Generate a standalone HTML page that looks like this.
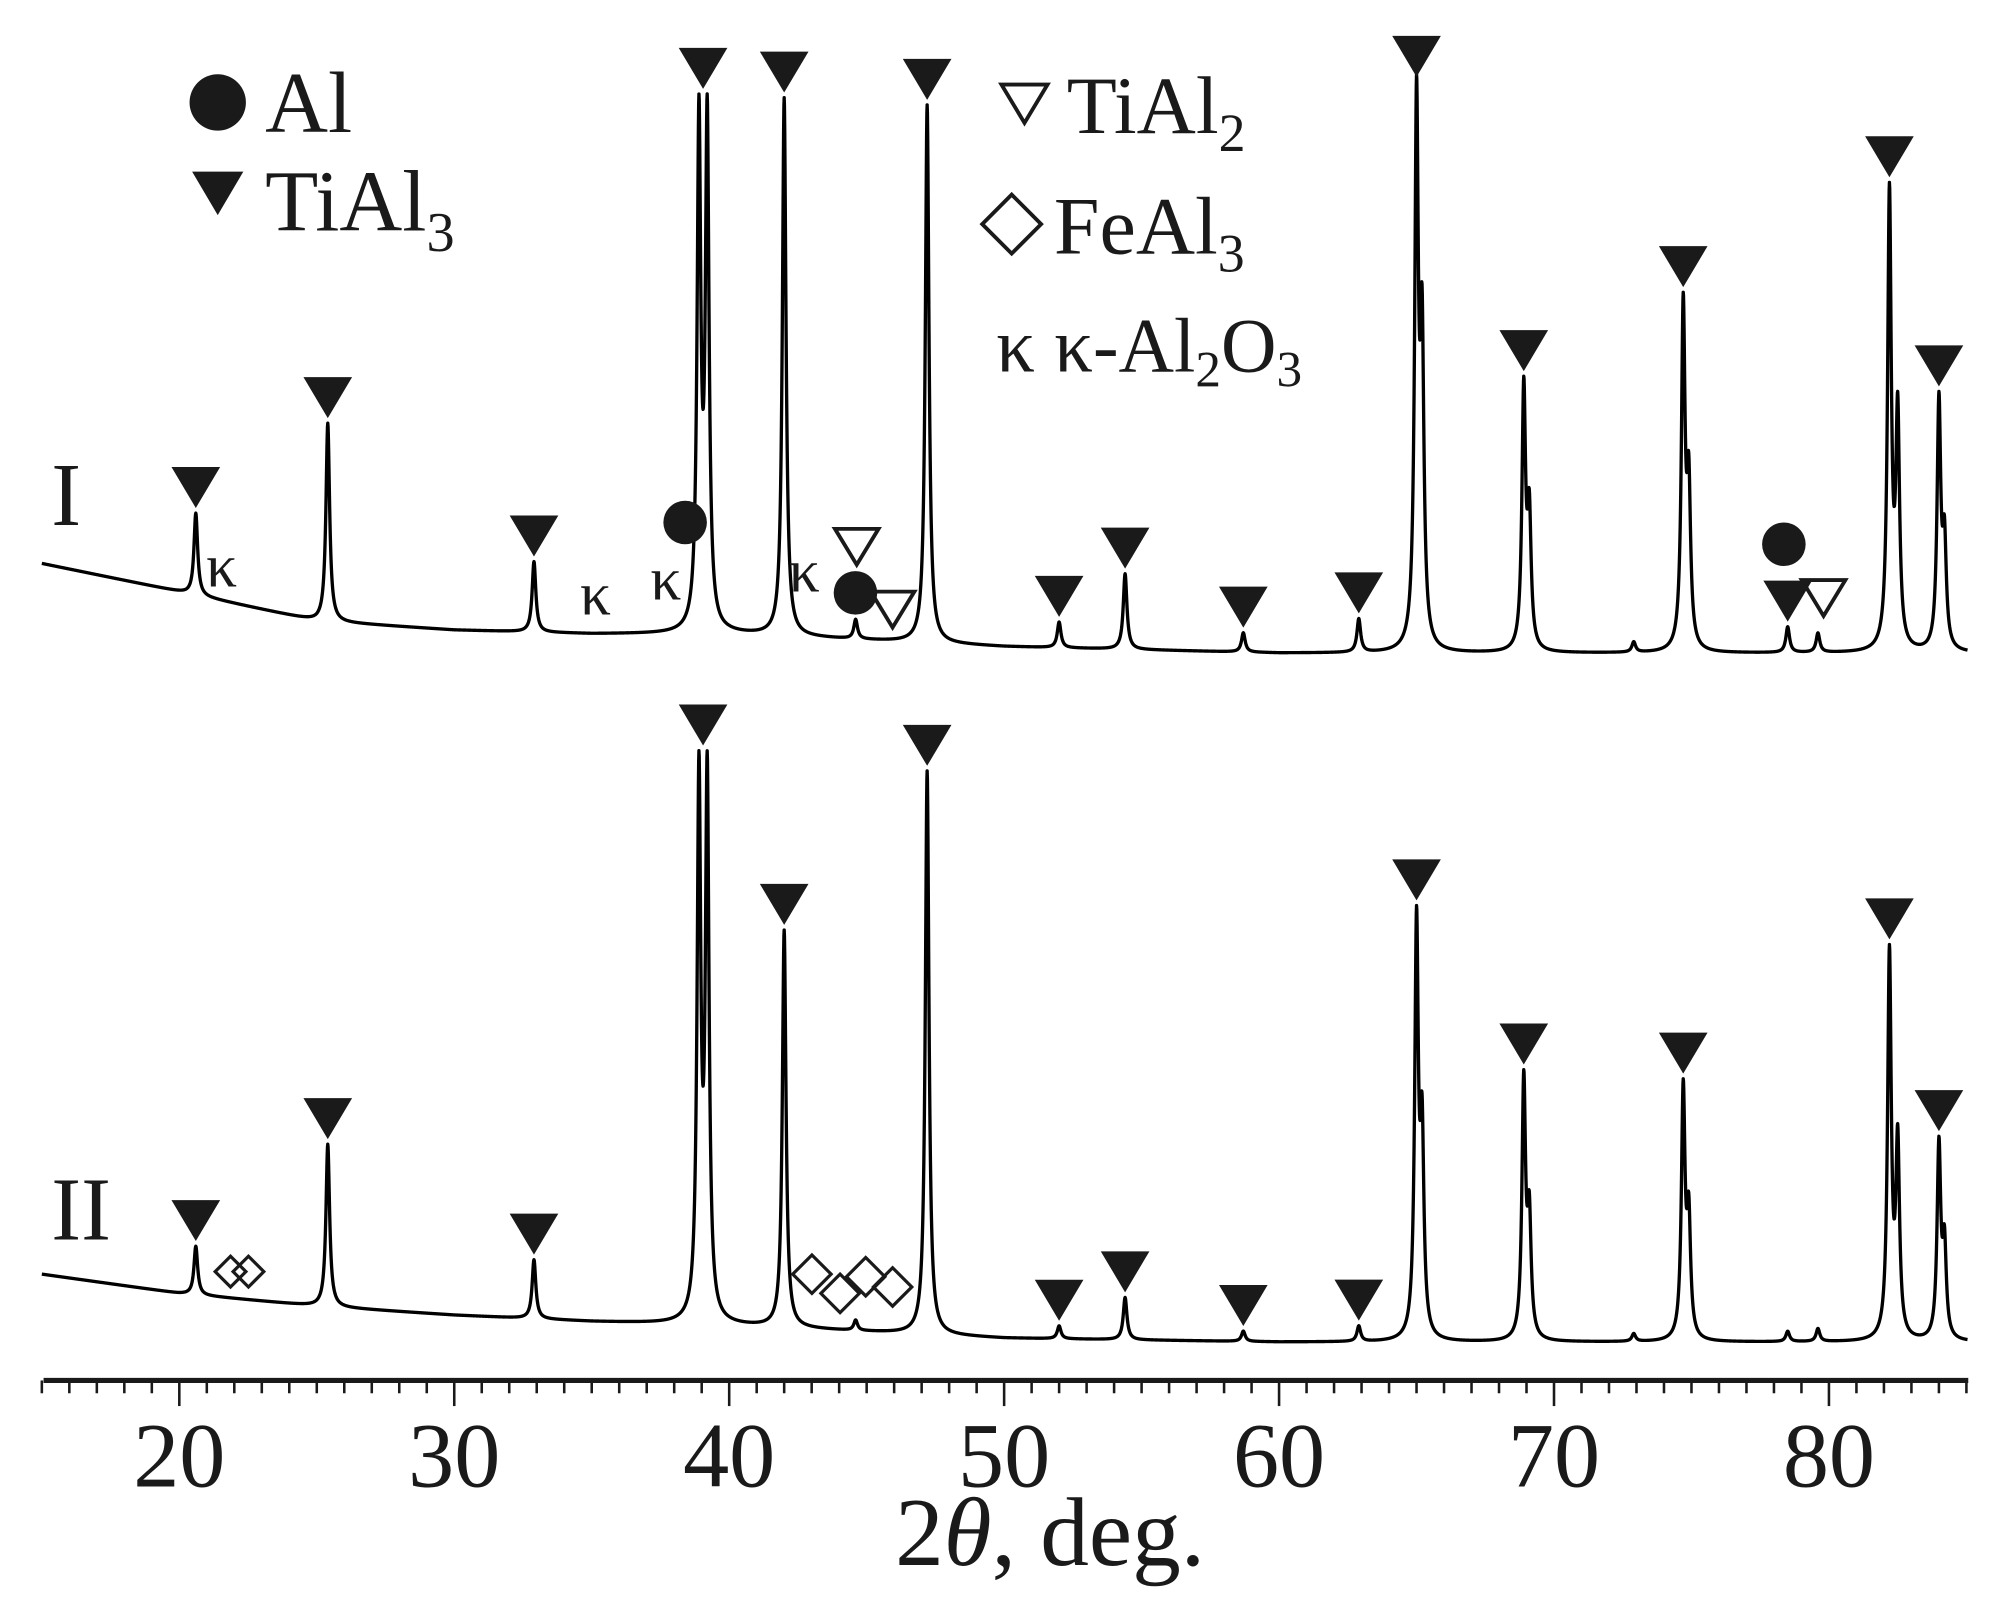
<!DOCTYPE html>
<html><head><meta charset="utf-8"><style>
html,body{margin:0;padding:0;background:#fff;}
svg{display:block;}
text{font-family:"Liberation Serif","Times New Roman",serif;fill:#1a1a1a;}
</style></head><body>
<svg id="chart" width="2008" height="1623" viewBox="0 0 1568 1267.4" xmlns="http://www.w3.org/2000/svg" font-family="Liberation Serif, serif">
<g id="axis"></g>
<g id="curves"></g>
<g id="marks"></g>
<g>
  <circle cx="170" cy="80" r="22" fill="#1a1a1a"/>
  <text x="207" y="103" font-size="68">Al</text>
  <polygon points="150,134 190,134 170,168" fill="#1a1a1a"/>
  <text x="207" y="180" font-size="68">TiAl<tspan font-size="44" dy="16">3</tspan></text>
  <polygon points="782,66 818,66 800,96" fill="none" stroke="#1a1a1a" stroke-width="3"/>
  <text x="833" y="104" font-size="64">TiAl<tspan font-size="42" dy="14">2</tspan></text>
  <polygon points="790,152 813,175 790,198 767,175" fill="none" stroke="#1a1a1a" stroke-width="3"/>
  <text x="823" y="198" font-size="64">FeAl<tspan font-size="42" dy="14">3</tspan></text>
  <text x="778" y="290" font-size="60">κ κ-Al<tspan font-size="40" dy="12">2</tspan><tspan dy="-12">O</tspan><tspan font-size="40" dy="12">3</tspan></text>
</g>
<text x="40" y="410" font-size="70">I</text>
<text x="40" y="968" font-size="70">II</text>
<text x="820" y="1222" font-size="76" text-anchor="middle">2<tspan font-style="italic">θ</tspan>, deg.</text>
</svg>
<script>
// ---- data ----
const bgT = [15,20,25,30,35,40,45,50,60,70,85];
const bgI = [80,58,35,28,25,25,20,15,10,10,10];
const bgII = [65,50,40,33,28,25,20,15,12,12,12];
const peakPos = [20.6,25.4,32.9,38.9,39.2,42.0,44.6,47.2,52.0,54.4,58.7,62.9,65.0,65.2,68.9,69.1,72.9,74.7,74.9,78.5,79.6,82.2,82.5,84.0,84.2];
const peakI  = [64,155,55,395,395,420,15,420,20,59,15,26,420,230,202,100,8,265,120,20,15,355,180,192,80];
const peakII = [38,127,46,420,420,310,8,440,10,33,8,12,320,150,200,90,6,193,90,8,10,300,150,150,70];
const tickLabels = [20,30,40,50,60,70,80];
const tialI = [20.6,25.4,32.9,39.05,42.0,47.2,52.0,54.4,58.7,62.9,65.0,68.9,74.7,78.5,82.2,84.0];
const tialII = [20.6,25.4,32.9,39.05,42.0,47.2,52.0,54.4,58.7,62.9,65.0,68.9,74.7,82.2,84.0];
// ---- axes ----
const X = t => 140 + (t-20)*21.47;
const YI = c => 520 - c;
const YII = c => 1060 - c;
const NS="http://www.w3.org/2000/svg";
function mk(tag, attrs, parent){const e=document.createElementNS(NS,tag);for(const k in attrs)e.setAttribute(k,attrs[k]);parent.appendChild(e);return e;}
function bg(t, arr){for(let i=0;i<bgT.length-1;i++){if(t<=bgT[i+1]){const f=(t-bgT[i])/(bgT[i+1]-bgT[i]);return arr[i]+f*(arr[i+1]-arr[i]);}}return arr[arr.length-1];}
function inten(t, bgArr, h){let s=bg(t,bgArr);const g=0.08;for(let i=0;i<peakPos.length;i++){const d=(t-peakPos[i])/g;s+=h[i]/(1+d*d);}return s;}
const axis=document.getElementById('axis');
let l=mk('line',{x1:34,x2:1537,y1:1078,y2:1078,stroke:'#1a1a1a','stroke-width':4},axis);


for(let t=15;t<=85;t++){const maj=t%10===0;const tk=mk('line',{x1:X(t),x2:X(t),y1:1078,y2:maj?1098:1088,stroke:'#1a1a1a','stroke-width':2},axis);

}
tickLabels.forEach(v=>{const tx=mk('text',{x:X(v),y:1161,'font-size':72,'text-anchor':'middle'},axis);tx.textContent=v;

});
const curves=document.getElementById('curves');
function draw(bgArr,h,Y,name){let d='';for(let t=15;t<=85.05;t+=0.01){d+=(d?'L':'M')+X(t).toFixed(2)+','+Y(inten(t,bgArr,h)).toFixed(2);}
const p=mk('path',{d:d,fill:'none',stroke:'#000','stroke-width':2.6,'stroke-linejoin':'round'},curves);

}
draw(bgI,peakI,YI,'curve-i');
draw(bgII,peakII,YII,'curve-ii');
const marks=document.getElementById('marks');
function tri(t,Y,bgArr,h,filled){let m=1e9;for(let u=t-0.25;u<=t+0.25;u+=0.01)m=Math.min(m,Y(inten(u,bgArr,h)));
const top=Math.max(m-36,28);const x=X(t);
const p=mk('polygon',{points:`${x-19},${top} ${x+19},${top} ${x},${top+32}`,fill:filled?'#1a1a1a':'none',stroke:'#1a1a1a','stroke-width':filled?0:3},marks);

}
tialI.forEach(t=>tri(t,YI,bgI,peakI,true));
tialII.forEach(t=>tri(t,YII,bgII,peakII,true));
[[669,413],[697,462],[1424,453]].forEach(([x,y])=>{const p=mk('polygon',{points:`${x-17},${y} ${x+17},${y} ${x},${y+28}`,fill:'none',stroke:'#1a1a1a','stroke-width':3},marks);

});
[[535,408],[668,463],[1393,425]].forEach(([x,y])=>{const c=mk('circle',{cx:x,cy:y,r:17,fill:'#1a1a1a'},marks);

});
[[173,458],[465,480],[520,468],[628,462]].forEach(([x,y])=>{const k=mk('text',{x:x,y:y,'font-size':48,'text-anchor':'middle'},marks);k.textContent='κ';

});
[[180,993,12],[194,993,12],[634,995,15],[656,1010,15],[676,997,15],[697,1005,15]].forEach(([x,y,s])=>{const p=mk('polygon',{points:`${x},${y-s} ${x+s},${y} ${x},${y+s} ${x-s},${y}`,fill:'none',stroke:'#1a1a1a','stroke-width':2.5},marks);

});
</script>
</body></html>
